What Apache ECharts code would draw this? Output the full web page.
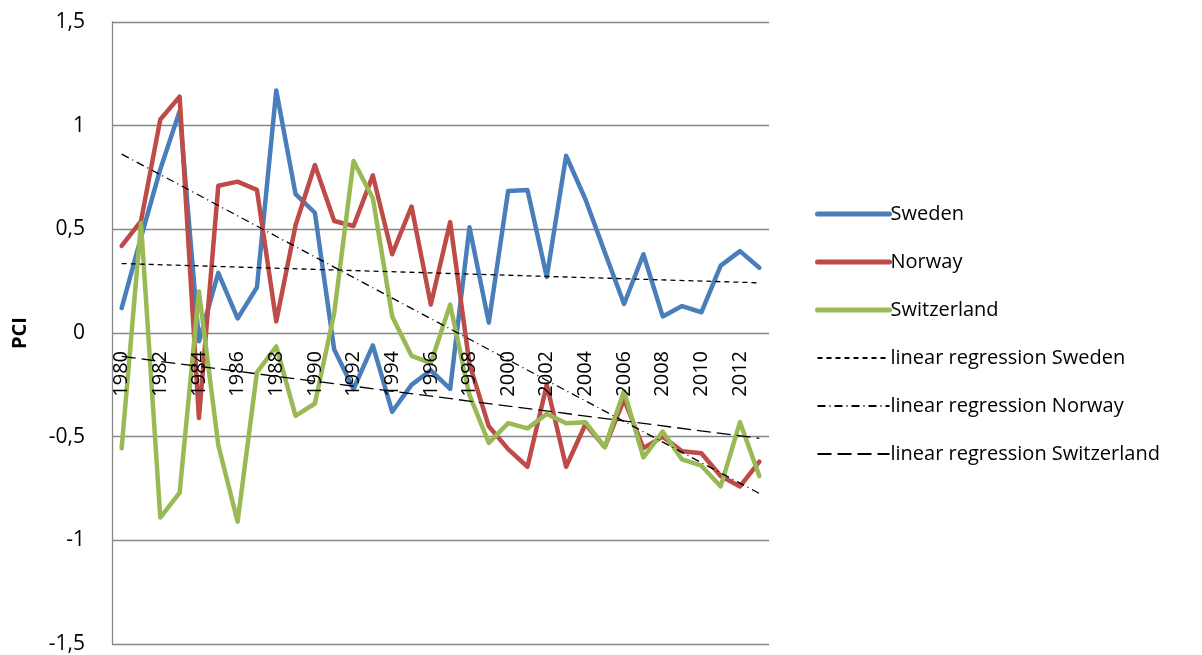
<!DOCTYPE html>
<html>
<head>
<meta charset="utf-8">
<title>PCI</title>
<script src="https://cdn.jsdelivr.net/npm/echarts@6/dist/echarts.min.js"></script>
<style>
    html, body { margin: 0; padding: 0; background: #fff; }
    .chart { width: 1202px; height: 655px; }
</style>
</head>
<body>
<div class="chart"></div>
<script>
// years on the x axis
const years = ['1980','1981','1982','1983','1984','1985','1986','1987','1988','1989',
    '1990','1991','1992','1993','1994','1995','1996','1997','1998','1999',
    '2000','2001','2002','2003','2004','2005','2006','2007','2008','2009',
    '2010','2011','2012','2013']

// PCI values
const sweden = [0.12, 0.46, 0.79, 1.07, -0.04, 0.29, 0.07, 0.22, 1.17, 0.67,
    0.58, -0.08, -0.27, -0.06, -0.38, -0.25, -0.18, -0.27, 0.51, 0.05,
    0.685, 0.69, 0.27, 0.855, 0.645, 0.39, 0.14, 0.38, 0.08, 0.13,
    0.1, 0.325, 0.395, 0.315]
const norway = [0.42, 0.54, 1.03, 1.14, -0.41, 0.71, 0.73, 0.69, 0.056, 0.52,
    0.81, 0.54, 0.516, 0.76, 0.38, 0.61, 0.137, 0.535, -0.15, -0.45,
    -0.56, -0.645, -0.25, -0.645, -0.44, -0.55, -0.32, -0.555, -0.5, -0.57,
    -0.58, -0.69, -0.74, -0.62]
const switzerland = [-0.556, 0.53, -0.89, -0.77, 0.2, -0.54, -0.91, -0.19, -0.065, -0.40,
    -0.34, 0.097, 0.83, 0.65, 0.08, -0.11, -0.145, 0.137, -0.3, -0.53,
    -0.435, -0.46, -0.39, -0.435, -0.43, -0.55, -0.28, -0.60, -0.476, -0.61,
    -0.64, -0.74, -0.43, -0.69]

// trend lines: value at first and last year
const regSweden = [0.335, 0.242]
const regNorway = [0.863, -0.774]
const regSwitzerland = [-0.113, -0.508]

const yTicks = [-1.5, -1, -0.5, 0, 0.5, 1, 1.5]

const font = 'Open Sans'

// plot box (px) – used to pull the year labels up onto the zero line
const gridTop = 22
const gridBottom = 11
const plotHeight = 655 - gridTop - gridBottom

function trend(ends){
    return [[years[0], ends[0]], [years[years.length - 1], ends[1]]]
}

function countryLine(name, data, color){
    return {
        name: name,
        type: 'line',
        data: data,
        symbol: 'none',
        lineStyle: { color: color, width: 4.5, cap: 'round', join: 'round' },
        itemStyle: { color: color },
        z: 2
    }
}

function trendLine(name, ends, dash){
    return {
        name: name,
        type: 'line',
        data: trend(ends),
        symbol: 'none',
        lineStyle: { color: '#000', width: 1.3, type: dash },
        itemStyle: { color: '#000' },
        z: 3
    }
}

const myCharts = echarts.init(document.querySelector('.chart'))

const yMin = yTicks[0]
const yMax = yTicks[yTicks.length - 1]
// distance from the bottom of the plot up to the 0 line
const zeroOffset = plotHeight * (0 - yMin) / (yMax - yMin)

const thick = { width: 5, cap: 'round' }

const option = {
    animation: false,
    grid: { left: 112, right: 433, top: gridTop, bottom: gridBottom, outerBoundsMode: 'none', containLabel: false },
    legend: {
        orient: 'vertical',
        left: 810,
        top: 199,
        itemWidth: 72,
        itemHeight: 14,
        itemGap: 28,
        itemStyle: { opacity: 0 },
        textStyle: { fontFamily: font, fontSize: 20, color: '#000', padding: [0, 0, 0, -4] },
        data: [
            { name: 'Sweden', lineStyle: thick },
            { name: 'Norway', lineStyle: thick },
            { name: 'Switzerland', lineStyle: thick },
            'linear regression Sweden',
            'linear regression Norway',
            'linear regression Switzerland'
        ]
    },
    xAxis: {
        type: 'category',
        data: years,
        boundaryGap: true,
        position: 'bottom',
        offset: -zeroOffset,
        z: 10,
        axisLine: { onZero: false, show: false },
        axisTick: { show: false },
        axisLabel: {
            interval: 1,
            rotate: 90,
            margin: 18,
            fontFamily: font,
            fontSize: 20,
            color: '#000'
        }
    },
    yAxis: {
        type: 'value',
        min: yMin,
        max: yMax,
        interval: 0.5,
        name: 'PCI',
        nameLocation: 'middle',
        nameGap: 82,
        nameRotate: 90,
        nameTextStyle: { fontFamily: font, fontSize: 20, fontWeight: 'bold', color: '#000' },
        axisLine: { show: true, lineStyle: { color: '#888', width: 1.3 } },
        axisTick: { show: false },
        splitLine: { lineStyle: { color: '#888', width: 1.3 } },
        axisLabel: {
            margin: 27,
            fontFamily: font,
            fontSize: 21,
            color: '#000',
            formatter: v => String(v).replace('.', ',')
        }
    },
    series: [
        countryLine('Sweden', sweden, '#4A7EBB'),
        countryLine('Norway', norway, '#BE4B48'),
        countryLine('Switzerland', switzerland, '#98B954'),
        trendLine('linear regression Sweden', regSweden, [5, 4]),
        trendLine('linear regression Norway', regNorway, [8, 4, 1, 4]),
        trendLine('linear regression Switzerland', regSwitzerland, [14, 6])
    ]
}

myCharts.setOption(option)

window.addEventListener('resize', () => {
    myCharts.resize()
})
</script>
</body>
</html>
